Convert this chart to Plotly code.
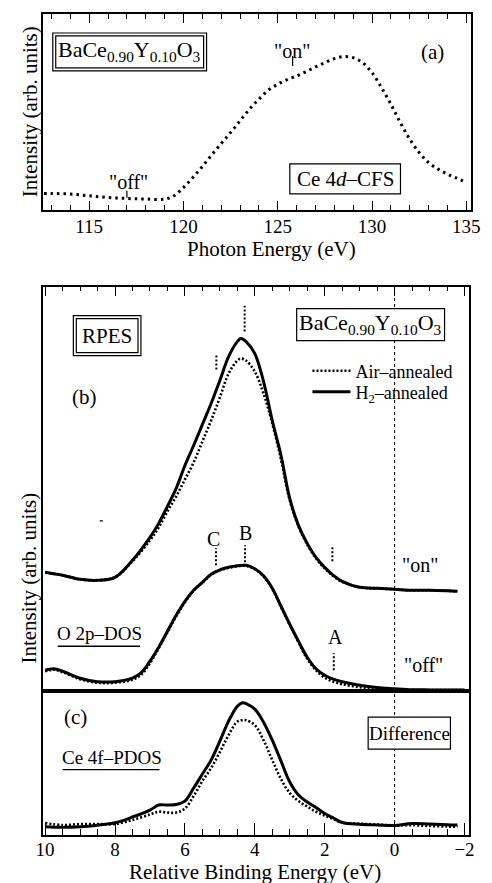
import plotly.graph_objects as go

# ---------------- data ----------------
# Panel (a): Ce 4d-CFS, photon energy (eV) vs intensity (arb. units)
photon_energy = [112.6, 113, 114, 115, 116, 117, 118, 119, 119.5, 120, 120.5, 121, 121.5,
                 122, 122.5, 123, 123.5, 124, 124.5, 125, 125.5, 126, 126.5, 127, 127.5,
                 128, 128.5, 129, 129.5, 130, 130.5, 131, 131.5, 132, 132.5, 133, 133.5,
                 134, 134.5, 135]
cfs_intensity = [16.3, 16.3, 15.7, 14.0, 12.3, 11.3, 10.7, 10.7, 14.0, 22.3, 32.3, 43.3, 55.0,
                 66.3, 77.3, 89.0, 100.7, 110.7, 119.7, 125.7, 130.3, 134.0, 138.3, 143.0, 147.3,
                 151.3, 153.3, 152.3, 147.3, 137.3, 122.3, 105.7, 87.3, 70.7, 57.3, 47.3, 40.7,
                 35.7, 31.7, 27.3]

# Panel (b): RPES "on" spectra (relative binding energy, eV)
be_on = [10, 9.5, 9, 8.5, 8, 7.5, 7, 6.75, 6.5, 6.25, 6, 5.75, 5.5, 5.25, 5, 4.75, 4.5, 4.4,
         4.25, 4, 3.75, 3.5, 3.25, 3, 2.75, 2.5, 2.25, 2, 1.75, 1.5, 1, 0.5, 0, -0.5, -1,
         -1.5, -1.8]
h2_on = [119, 116, 112, 111, 114, 131, 154, 168, 185, 203, 226, 246, 267, 288, 311, 335, 350,
         353, 350, 338, 310, 271, 236, 193, 166, 148, 134, 124, 116, 110, 104, 103, 102, 101,
         101, 100.5, 100]
air_on = [119, 116, 112, 111, 114, 130, 151, 164, 180, 195, 212, 229, 250, 271, 294, 318, 331,
          333, 331, 320, 298, 268, 232, 191, 165, 147, 133, 123, 115, 109.5, 104, 103, 102,
          101, 101, 100.5, 100]

# Panel (b): RPES "off" spectra
be_off = [10, 9.75, 9.5, 9, 8.5, 8, 7.5, 7.25, 7, 6.75, 6.5, 6.25, 6, 5.75, 5.5, 5.25, 5,
          4.75, 4.5, 4.25, 4, 3.75, 3.5, 3.25, 3, 2.75, 2.5, 2.25, 2, 1.75, 1.5, 1, 0.5, 0,
          -0.5, -1, -1.5, -2]
h2_off = [21, 22.5, 20, 13, 9.5, 9.5, 13, 18.5, 30, 44, 60, 76, 90, 101, 109, 117, 121.5, 124,
          125.5, 126, 122.5, 115.5, 103, 85, 67, 50, 34, 22.5, 16, 12, 9.5, 6, 3.7, 2.5, 1.5,
          1.3, 1.2, 1.2]
air_off = [20, 21.5, 19, 12, 8.5, 8.5, 11.5, 16.5, 28, 43, 59, 75, 89, 100.5, 108.5, 116.5,
           121, 123.5, 125, 125.5, 122, 115, 102.5, 84.5, 66.5, 49, 32.5, 21, 13.5, 9.5, 7,
           4, 2.5, 1.5, 1.2, 1.1, 1.1, 1.1]

# Panel (c): difference spectra (Ce 4f-PDOS)
be_diff = [10, 9.5, 9, 8.5, 8, 7.5, 7, 6.75, 6.5, 6.25, 6, 5.75, 5.5, 5.25, 5, 4.75, 4.5,
           4.35, 4.25, 4, 3.75, 3.5, 3.25, 3, 2.75, 2.5, 2.25, 2, 1.75, 1.5, 1, 0.5, 0,
           -0.5, -1, -1.5, -1.8]
h2_diff = [8.3, 7.8, 8.3, 9.8, 12.2, 18, 25, 30, 30, 30.5, 34, 47, 61, 75, 94, 114, 129,
           132.5, 131.5, 126, 113, 95, 74, 53, 40, 33, 27.5, 21.5, 17, 12.5, 10.7, 10, 9.5,
           11.5, 11, 10.3, 10]
air_diff = [12, 10, 11, 11, 11, 15, 20.5, 23.3, 22.5, 22.5, 26.5, 39, 54, 67, 83, 100, 113.5,
            115, 115, 110, 95, 75, 56, 42, 34, 28.5, 23.3, 19.5, 15.8, 12.5, 11.3, 10.5, 9.7,
            9.8, 9, 8.5, 8.3]

# feature markers (binding energies)
on_marks = [4.29, 5.10, 1.78]
off_marks = [5.11, 4.28, 1.74]
off_labels = ["C", "B", "A"]

# ---------------- layout helpers ----------------
W, H = 492, 883
L, R, T, B = 43, 12, 13, 48
PW, PH = W - L - R, H - T - B


def X(px):
    return (px - L) / PW


def Y(py):
    return (H - B - py) / PH


FONT = "Liberation Serif"
BLK = "black"

fig = go.Figure()

fig.add_trace(go.Scatter(x=photon_energy, y=cfs_intensity, mode="lines",
                         line=dict(color=BLK, width=3, dash="2.5px,4px", shape="spline"),
                         xaxis="x", yaxis="y", showlegend=False))

fig.add_trace(go.Scatter(x=be_on, y=air_on, mode="lines", name="Air–annealed",
                         line=dict(color=BLK, width=2.6, dash="2px,2px", shape="spline"),
                         xaxis="x2", yaxis="y2", legend="legend"))
fig.add_trace(go.Scatter(x=be_on, y=h2_on, mode="lines", name="H<sub>2</sub>–annealed",
                         line=dict(color=BLK, width=3, shape="spline"),
                         xaxis="x2", yaxis="y2", legend="legend2"))
fig.add_trace(go.Scatter(x=be_off, y=air_off, mode="lines", showlegend=False,
                         line=dict(color=BLK, width=2.6, dash="2px,2px", shape="spline"),
                         xaxis="x2", yaxis="y2"))
fig.add_trace(go.Scatter(x=be_off, y=h2_off, mode="lines", showlegend=False,
                         line=dict(color=BLK, width=3, shape="spline"),
                         xaxis="x2", yaxis="y2"))

fig.add_trace(go.Scatter(x=be_diff, y=air_diff, mode="lines", showlegend=False,
                         line=dict(color=BLK, width=2.6, dash="2px,2px", shape="spline"),
                         xaxis="x3", yaxis="y3"))
fig.add_trace(go.Scatter(x=be_diff, y=h2_diff, mode="lines", showlegend=False,
                         line=dict(color=BLK, width=3, shape="spline"),
                         xaxis="x3", yaxis="y3"))

axis_common = dict(showline=True, linecolor=BLK, linewidth=1.5, showgrid=False,
                   zeroline=False, tickcolor=BLK, tickwidth=1.2,
                   tickfont=dict(family=FONT, size=19, color=BLK))
xdom_b = [0, X(478)]
legend_common = dict(xanchor="left", yanchor="top",
                     font=dict(family=FONT, size=18, color=BLK), bgcolor="rgba(0,0,0,0)",
                     tracegroupgap=0, itemwidth=38)

fig.update_layout(
    width=W, height=H, margin=dict(l=L, r=R, t=T, b=B),
    paper_bgcolor="white", plot_bgcolor="white",
    font=dict(family=FONT, color=BLK, size=19),
    xaxis=dict(axis_common, domain=[0, 1], anchor="y", range=[112.55, 135.25],
               ticks="inside", tick0=115, dtick=5, ticklen=9, mirror="ticks",
               ticklabelstandoff=-1,
               minor=dict(dtick=1, ticks="inside", ticklen=5, tickcolor=BLK, tickwidth=1.2)),
    yaxis=dict(axis_common, domain=[Y(209), Y(13)], anchor="x", range=[0, 196],
               showticklabels=False, ticks="", mirror=True),
    xaxis2=dict(axis_common, domain=xdom_b, anchor="y2", range=[10.06, -2.13],
                side="top", ticks="inside", tick0=0, dtick=2, ticklen=10, mirror=True,
                showticklabels=False,
                minor=dict(dtick=0.5, ticks="inside", ticklen=5, tickcolor=BLK, tickwidth=1.2)),
    yaxis2=dict(axis_common, domain=[Y(691), Y(286)], anchor="x2", range=[0, 405],
                showticklabels=False, ticks="", mirror=True),
    xaxis3=dict(axis_common, domain=xdom_b, anchor="y3", range=[10.06, -2.13],
                ticks="inside", tick0=0, dtick=2, ticklen=12, mirror=True,
                ticklabelstandoff=-4,
                minor=dict(dtick=0.5, ticks="inside", ticklen=6, tickcolor=BLK, tickwidth=1.2)),
    yaxis3=dict(axis_common, domain=[0, Y(691)], anchor="x3", range=[0, 144],
                showticklabels=False, ticks="", mirror=True),
    legend=dict(legend_common, x=X(313), y=Y(352)),
    legend2=dict(legend_common, x=X(313), y=Y(373)),
)

shapes = []
# vertical dotted line at E = 0 through panels (b) and (c)
shapes.append(dict(type="line", xref="x2", yref="paper", x0=0, x1=0, y0=0, y1=Y(286),
                   line=dict(color=BLK, width=1, dash="dot")))


def rect(x0, y0, x1, y1, w=1.2):
    return dict(type="rect", xref="paper", yref="paper", x0=X(x0), x1=X(x1),
                y0=Y(y1), y1=Y(y0), line=dict(color=BLK, width=w),
                fillcolor="white", layer="above")


# double boxes
shapes.append(rect(53, 32, 210, 70))
shapes.append(rect(56, 35, 207, 67))
shapes.append(rect(74, 315, 143, 355))
shapes.append(rect(77, 318, 140, 352))
# single boxes
shapes.append(rect(295, 163, 408, 193))
shapes.append(rect(302, 308, 453, 340))
shapes.append(rect(375, 717, 459, 749))

# marker ticks in panel (a)
shapes.append(dict(type="line", xref="x", yref="paper", x0=125.79, x1=125.79,
                   y0=Y(65), y1=Y(55), line=dict(color=BLK, width=1.2)))
shapes.append(dict(type="line", xref="x", yref="paper", x0=117, x1=117,
                   y0=Y(197), y1=Y(190), line=dict(color=BLK, width=1.2)))

# dotted feature markers in panel (b)
on_mark_px = [(305, 331), (353, 369), (545, 561)]
off_mark_px = [(548, 565), (545, 562), (653, 670)]
for e, (ya, yb) in zip(on_marks, on_mark_px):
    shapes.append(dict(type="line", xref="x2", yref="paper", x0=e, x1=e, y0=Y(yb), y1=Y(ya),
                       line=dict(color=BLK, width=2, dash="2px,2px")))
for e, (ya, yb) in zip(off_marks, off_mark_px):
    shapes.append(dict(type="line", xref="x2", yref="paper", x0=e, x1=e, y0=Y(yb), y1=Y(ya),
                       line=dict(color=BLK, width=2, dash="2px,2px")))

# underlines and small dash
for (xa, xb, yy) in [(58, 142, 646), (63, 162, 769.5), (101, 104, 520.5)]:
    shapes.append(dict(type="line", xref="paper", yref="paper", x0=X(xa), x1=X(xb),
                       y0=Y(yy), y1=Y(yy), line=dict(color=BLK, width=1.3)))

fig.update_layout(shapes=shapes)

annotations = []


def txt(text, px, py, size=20, angle=0):
    annotations.append(dict(text=text, x=X(px), y=Y(py), xref="paper", yref="paper",
                            showarrow=False, xanchor="center", yanchor="middle",
                            textangle=angle,
                            font=dict(family=FONT, size=size, color=BLK)))


formula = "BaCe<sub>0.90</sub>Y<sub>0.10</sub>O<sub>3</sub>"
txt(formula, 131.5, 50, 22)
txt('"on"', 297.5, 50, 20)
txt('"off"', 130, 181, 20)
txt("(a)", 441, 51, 21)
txt("Ce 4<i>d</i>–CFS", 351.5, 178, 21)

txt("RPES", 108.5, 335, 21)
txt("(b)", 85, 396, 21)
txt(formula, 377.5, 323, 22)
txt('"on"', 428, 565, 20)
txt('"off"', 431, 665, 20)
txt("C", 216.7, 538.5, 20)
txt("B", 249.3, 533, 20)
txt("A", 341.7, 637, 20)
txt("O 2p–DOS", 100.5, 633, 19)

txt("(c)", 76, 717, 21)
txt("Ce 4f–PDOS", 113, 757, 19)
txt("Difference", 417, 733, 19)

# axis titles
txt("Photon Energy (eV)", 276, 248, 21)
txt("Relative Binding Energy (eV)", 259, 872, 21)
txt("Intensity (arb. units)", 30, 111, 21, -90)
txt("Intensity (arb. units)", 29, 578, 21, -90)

fig.update_layout(annotations=annotations)

fig.write_html("out.html", config={"displayModeBar": False},
               post_script="document.body.style.margin='0';document.body.style.overflow='hidden';")
